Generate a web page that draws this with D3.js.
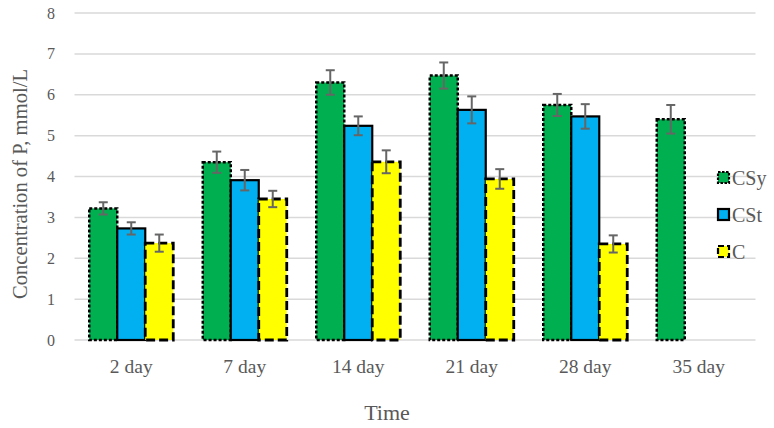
<!DOCTYPE html>
<html>
<head>
<meta charset="utf-8">
<script src="https://d3js.org/d3.v7.min.js"></script>
<style>
  body { margin: 0; background: #fff; }
  text { font-family: "Liberation Serif", "DejaVu Serif", serif; fill: #595959; }
</style>
</head>
<body>
<svg width="774" height="428"></svg>
<script>
// data
const days = ["2 day", "7 day", "14 day", "21 day", "28 day", "35 day"];
const seriesNames = ["CSy", "CSt", "C"];
const csy = [3.22, 4.35, 6.30, 6.47, 5.75, 5.40];
const cst = [2.73, 3.91, 5.24, 5.63, 5.47, null];
const cc  = [2.37, 3.45, 4.36, 3.94, 2.35, null];
const csyErr = [0.15, 0.26, 0.30, 0.32, 0.27, 0.35];
const cstErr = [0.15, 0.25, 0.23, 0.33, 0.30, null];
const ccErr  = [0.21, 0.20, 0.28, 0.24, 0.21, null];
const yTicks = [0, 1, 2, 3, 4, 5, 6, 7, 8];

const svg = d3.select("svg"),
      width = +svg.attr("width"),
      height = +svg.attr("height");

// plot area edges
const plotL = 74.5, plotR = 755.5, plotT = 13, plotB = 340;

// series styles (fill + border dash)
const styles = {
    "CSy": { fill: "#00B050", dash: "3,2", sw: 2.5 },
    "CSt": { fill: "#00B0F0", dash: null, sw: 2.2 },
    "C":   { fill: "#FFFF00", dash: "9,4", sw: 2.8 }
};

const values = { "CSy": csy, "CSt": cst, "C": cc };
const errors = { "CSy": csyErr, "CSt": cstErr, "C": ccErr };

const x0 = d3.scaleBand().domain(days).range([plotL, plotR])
    .paddingInner(0.26).paddingOuter(0.13);
const x1 = d3.scaleBand().domain(seriesNames).range([0, x0.bandwidth()]);
const y = d3.scaleLinear().domain([0, 8]).range([plotB, plotT]);

// gridlines
svg.append("g")
    .selectAll("line")
    .data(yTicks)
    .enter().append("line")
    .attr("x1", plotL).attr("x2", plotR)
    .attr("y1", d => y(d)).attr("y2", d => y(d))
    .attr("stroke", "#D9D9D9")
    .attr("stroke-width", 1.5);

// y tick labels
svg.append("g")
    .selectAll("text")
    .data(yTicks)
    .enter().append("text")
    .attr("x", 55)
    .attr("y", d => y(d))
    .attr("dy", "0.35em")
    .attr("text-anchor", "end")
    .attr("font-size", 16)
    .text(d => d);

// flatten into bar records
const bars = [];
days.forEach((day, i) => {
    seriesNames.forEach(s => {
        if (values[s][i] != null) {
            bars.push({ day: day, series: s, value: values[s][i], err: errors[s][i] });
        }
    });
});

const barG = svg.append("g");
barG.selectAll("rect")
    .data(bars)
    .enter().append("rect")
    .attr("x", d => x0(d.day) + x1(d.series))
    .attr("y", d => y(d.value))
    .attr("width", x1.bandwidth())
    .attr("height", d => y(0) - y(d.value))
    .attr("fill", d => styles[d.series].fill)
    .attr("stroke", "#000")
    .attr("stroke-width", d => styles[d.series].sw)
    .attr("stroke-dasharray", d => styles[d.series].dash);

// error bars
const errG = svg.append("g")
    .attr("stroke", "#666")
    .attr("stroke-width", 2);

bars.forEach(d => {
    const cx = x0(d.day) + x1(d.series) + x1.bandwidth() / 2;
    const yHi = y(d.value + d.err), yLo = y(d.value - d.err);
    errG.append("line").attr("x1", cx).attr("x2", cx).attr("y1", yHi).attr("y2", yLo);
    errG.append("line").attr("x1", cx - 4.5).attr("x2", cx + 4.5).attr("y1", yHi).attr("y2", yHi);
    errG.append("line").attr("x1", cx - 4.5).attr("x2", cx + 4.5).attr("y1", yLo).attr("y2", yLo);
});

// category labels
svg.append("g")
    .selectAll("text")
    .data(days)
    .enter().append("text")
    .attr("x", d => x0(d) + x0.bandwidth() / 2)
    .attr("y", 373)
    .attr("text-anchor", "middle")
    .attr("font-size", 19.5)
    .text(d => d);

// axis titles
svg.append("text")
    .attr("x", 387)
    .attr("y", 420)
    .attr("text-anchor", "middle")
    .attr("font-size", 22)
    .text("Time");

svg.append("text")
    .attr("transform", "translate(27,184) rotate(-90)")
    .attr("text-anchor", "middle")
    .attr("font-size", 20.6)
    .text("Concentration of P, mmol/L");

// legend
const legend = svg.append("g")
    .selectAll("g")
    .data(seriesNames)
    .enter().append("g")
    .attr("transform", (d, i) => `translate(718,${172 + i * 37})`);

legend.append("rect")
    .attr("width", 11).attr("height", 11)
    .attr("fill", d => styles[d].fill)
    .attr("stroke", "#000")
    .attr("stroke-width", 2.2)
    .attr("stroke-dasharray", d => d === "CSt" ? null : (d === "C" ? "6,3" : "2.5,1.5"));

legend.append("text")
    .attr("x", 14)
    .attr("y", 6)
    .attr("dy", "0.35em")
    .attr("font-size", 20)
    .text(d => d);
</script>
</body>
</html>
